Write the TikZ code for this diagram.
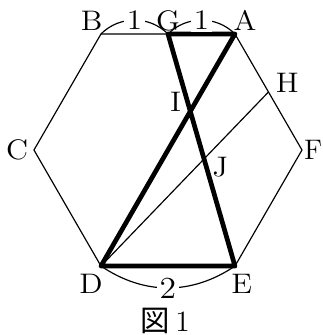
\documentclass[tikz,border=0pt]{standalone}
\usepackage{graphicx}
\usepackage{fontspec}
\newfontfamily\cjk{Noto Sans CJK JP}
\usetikzlibrary{calc}

\newcommand{\widetxt}[1]{\scalebox{1.1}[1]{#1}}

\begin{document}
\begin{tikzpicture}[
    font=\fontsize{12}{14}\selectfont,
    pt/.style={inner sep=0pt},
    num/.style={fill=white, inner sep=1.2pt},
    bold/.style={line width=2pt, line join=round},
    thinline/.style={line width=0.5pt}
]
\useasboundingbox (-2.507,-2.761) rectangle (2.313,2.239);

% hexagon vertices
\coordinate (A) at (1,1.732);
\coordinate (B) at (-1,1.732);
\coordinate (C) at (-2,0);
\coordinate (D) at (-1,-1.732);
\coordinate (E) at (1,-1.732);
\coordinate (F) at (2,0);
\coordinate (G) at (0,1.732);
\coordinate (H) at ($(A)!0.5!(F)$);
\coordinate (I) at (intersection of A--D and G--E);
\coordinate (J) at (intersection of D--H and G--E);

% thin lines
\draw[thinline] (A) -- (B) -- (C) -- (D) -- (E) -- (F) -- cycle;
\draw[thinline] (D) -- (H);

% thick lines
\draw[bold] (A) -- (G) -- (E) -- (D) -- cycle;

% lengths
\draw[thinline] (B) to[bend left=45] node[num] (oneL) {\widetxt{1}} (G);
\draw[thinline] (G) to[bend left=45] node[num] (oneR) {\widetxt{1}} (A);
\draw[thinline] (D) to[bend right=34] node[num, font=\fontsize{13}{15}\selectfont] (two) {\widetxt{2}} (E);

% point labels
\node[pt] (labA) at ($(A)+(0.15,0.2)$) {\widetxt{A}};
\node[pt] (labB) at ($(B)+(-0.14,0.2)$) {\widetxt{B}};
\node[pt] (labC) at ($(C)+(-0.25,0)$) {\widetxt{C}};
\node[pt] (labD) at ($(D)+(-0.15,-0.27)$) {\widetxt{D}};
\node[pt] (labE) at ($(E)+(0.1,-0.27)$) {\widetxt{E}};
\node[pt] (labF) at ($(F)+(0.165,0)$) {F};
\node[pt] (labG) at ($(G)+(0,0.2)$) {\widetxt{G}};
\node[pt] (labH) at ($(H)+(0.28,0.13)$) {\widetxt{H}};
\node[pt] (labI) at ($(I)+(-0.22,0.14)$) {\widetxt{I}};
\node[pt] (labJ) at ($(J)+(0.24,-0.12)$) {\widetxt{J}};

% caption
\node[pt, font=\fontsize{12.5}{14}\selectfont] (caption) at (-0.04,-2.55) {{\cjk 図}\,1};

\end{tikzpicture}
\end{document}
